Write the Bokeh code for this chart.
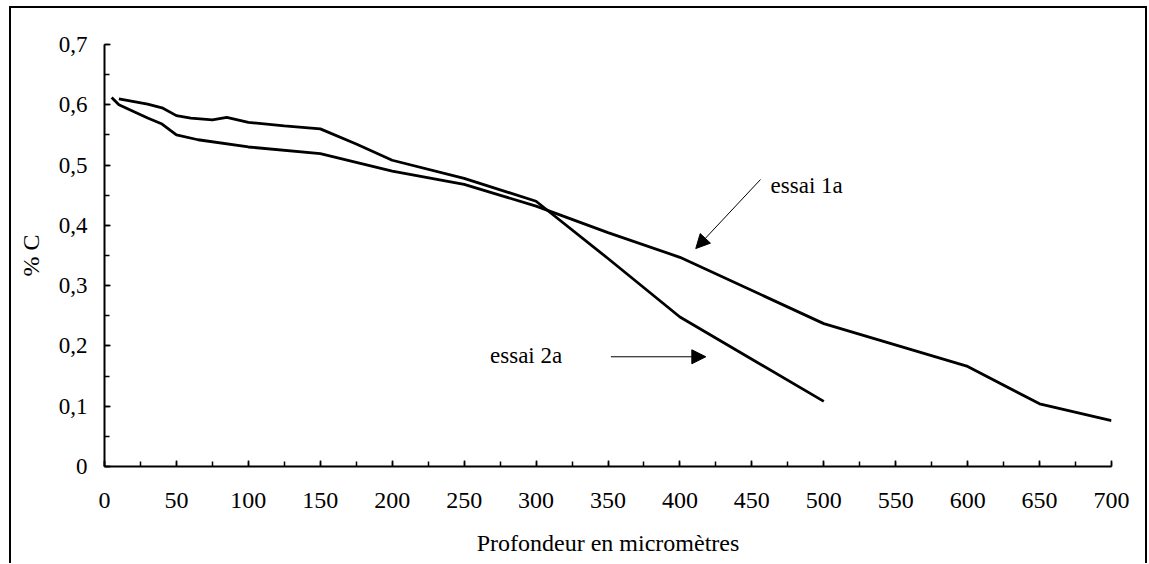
import numpy as np
from bokeh.plotting import figure
from bokeh.models import Range1d, FixedTicker, Arrow, NormalHead, Label
from bokeh.embed import file_html
from bokeh.resources import INLINE

# ---- data ----
essai_1a_x = [5, 10, 30, 40, 50, 65, 100, 150, 200, 250, 300, 350, 400, 500, 600, 650, 700]
essai_1a_y = [0.612, 0.600, 0.578, 0.568, 0.550, 0.542, 0.530, 0.519, 0.490, 0.468, 0.432,
              0.388, 0.347, 0.237, 0.166, 0.104, 0.076]

essai_2a_x = [10, 30, 40, 50, 60, 75, 85, 100, 125, 150, 175, 200, 250, 300, 350, 400, 450, 500]
essai_2a_y = [0.610, 0.601, 0.595, 0.582, 0.578, 0.575, 0.579, 0.571, 0.565, 0.560, 0.535,
              0.508, 0.478, 0.440, 0.345, 0.248, 0.178, 0.108]

x_ticks = [0, 50, 100, 150, 200, 250, 300, 350, 400, 450, 500, 550, 600, 650, 700]
x_tick_labels = ["0", "50", "100", "150", "200", "250", "300", "350", "400", "450",
                 "500", "550", "600", "650", "700"]
y_ticks = [0, 0.1, 0.2, 0.3, 0.4, 0.5, 0.6, 0.7]
y_tick_labels = ["0", "0,1", "0,2", "0,3", "0,4", "0,5", "0,6", "0,7"]

x_title = "Profondeur en micromètres"
y_title = "% C"

FONT = "Liberation Serif"

p = figure(
    frame_width=1007, frame_height=422,
    min_border_left=93, min_border_right=34, min_border_top=36, min_border_bottom=97,
    x_range=Range1d(0, 700), y_range=Range1d(0, 0.7),
    output_backend="svg", toolbar_location=None,
)
p.styles = {"margin-left": "9px", "margin-top": "6px",
            "border-top": "2px solid black", "border-left": "2px solid black",
            "border-right": "2px solid black"}
p.outline_line_color = None
p.xgrid.visible = False
p.ygrid.visible = False
p.background_fill_color = "white"
p.border_fill_color = "white"

p.line(essai_1a_x, essai_1a_y, line_color="black", line_width=2.8)
p.line(essai_2a_x, essai_2a_y, line_color="black", line_width=2.8)

# axes
xa = p.xaxis[0]
xa.ticker = FixedTicker(ticks=x_ticks, minor_ticks=list(np.arange(0, 701, 25)))
xa.major_label_overrides = {t: s for t, s in zip(x_ticks, x_tick_labels)}
xa.axis_label = x_title
ya = p.yaxis[0]
ya.ticker = FixedTicker(ticks=y_ticks, minor_ticks=[round(v, 2) for v in np.arange(0, 0.701, 0.05)])
ya.major_label_overrides = {t: s for t, s in zip(y_ticks, y_tick_labels)}
ya.axis_label = y_title

for ax in (xa, ya):
    ax.axis_line_width = 2
    ax.axis_line_color = "black"
    ax.major_tick_in = 6
    ax.major_tick_out = 0
    ax.minor_tick_in = 5
    ax.minor_tick_out = 0
    ax.major_tick_line_width = 1.5
    ax.minor_tick_line_width = 1.5
    ax.major_tick_line_color = "black"
    ax.minor_tick_line_color = "black"
    ax.major_label_text_font = FONT
    ax.major_label_text_color = "black"
    ax.axis_label_text_font = FONT
    ax.axis_label_text_font_size = "24px"
    ax.axis_label_text_font_style = "normal"
    ax.axis_label_text_color = "black"

xa.major_label_text_font_size = "24px"
ya.major_label_text_font_size = "23px"
xa.major_label_standoff = 26
xa.axis_label_standoff = 19
ya.major_label_standoff = 17
ya.axis_label_standoff = 12

# annotations
p.add_layout(Arrow(end=NormalHead(size=14, fill_color="black", line_color="black"),
                   x_start=456, y_start=0.476, x_end=411, y_end=0.3615,
                   line_color="black", line_width=1))
p.add_layout(Arrow(end=NormalHead(size=14, fill_color="black", line_color="black"),
                   x_start=352, y_start=0.182, x_end=418, y_end=0.182,
                   line_color="black", line_width=1))
p.add_layout(Label(x=463, y=0.466, text="essai 1a", text_font=FONT,
                   text_font_size="23px", text_baseline="middle", text_color="black"))
p.add_layout(Label(x=268, y=0.184, text="essai 2a", text_font=FONT,
                   text_font_size="23px", text_baseline="middle", text_color="black"))

open("out.html", "w").write(file_html(p, INLINE))
